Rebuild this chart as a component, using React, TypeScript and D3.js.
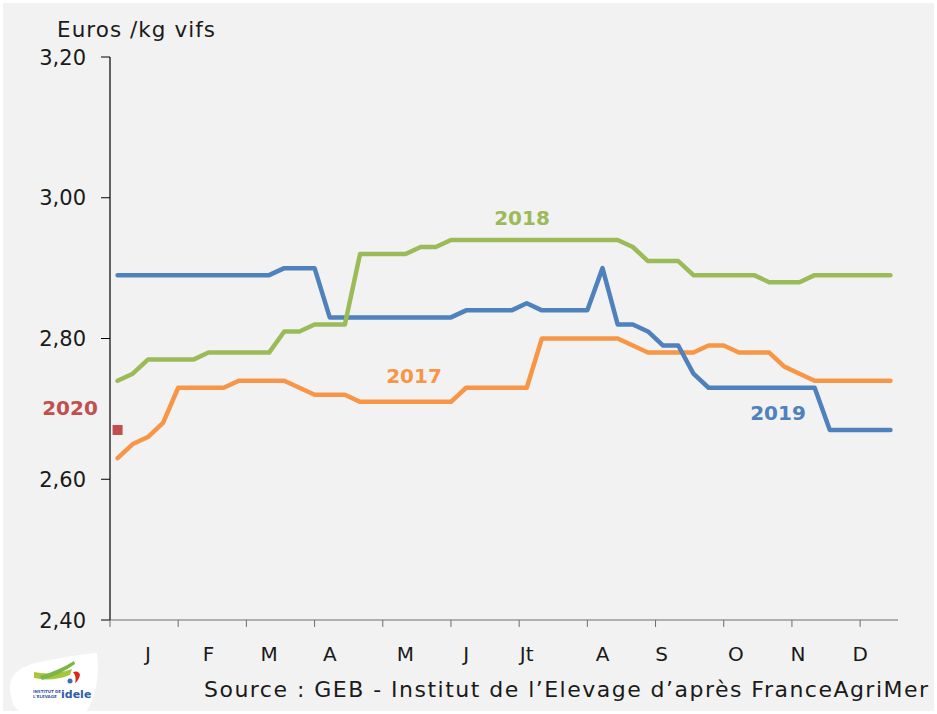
import React from "react";
import * as d3 from "d3";

const weeks: number[] = Array.from({ length: 52 }, (_, i) => i + 1);

const s2017: number[] = [
  2.63, 2.65, 2.66, 2.68, 2.73, 2.73, 2.73, 2.73, 2.74, 2.74, 2.74, 2.74, 2.73,
  2.72, 2.72, 2.72, 2.71, 2.71, 2.71, 2.71, 2.71, 2.71, 2.71, 2.73, 2.73, 2.73,
  2.73, 2.73, 2.8, 2.8, 2.8, 2.8, 2.8, 2.8, 2.79, 2.78, 2.78, 2.78, 2.78, 2.79,
  2.79, 2.78, 2.78, 2.78, 2.76, 2.75, 2.74, 2.74, 2.74, 2.74, 2.74, 2.74,
];

const s2018: number[] = [
  2.74, 2.75, 2.77, 2.77, 2.77, 2.77, 2.78, 2.78, 2.78, 2.78, 2.78, 2.81, 2.81,
  2.82, 2.82, 2.82, 2.92, 2.92, 2.92, 2.92, 2.93, 2.93, 2.94, 2.94, 2.94, 2.94,
  2.94, 2.94, 2.94, 2.94, 2.94, 2.94, 2.94, 2.94, 2.93, 2.91, 2.91, 2.91, 2.89,
  2.89, 2.89, 2.89, 2.89, 2.88, 2.88, 2.88, 2.89, 2.89, 2.89, 2.89, 2.89, 2.89,
];

const s2019: number[] = [
  2.89, 2.89, 2.89, 2.89, 2.89, 2.89, 2.89, 2.89, 2.89, 2.89, 2.89, 2.9, 2.9,
  2.9, 2.83, 2.83, 2.83, 2.83, 2.83, 2.83, 2.83, 2.83, 2.83, 2.84, 2.84, 2.84,
  2.84, 2.85, 2.84, 2.84, 2.84, 2.84, 2.9, 2.82, 2.82, 2.81, 2.79, 2.79, 2.75,
  2.73, 2.73, 2.73, 2.73, 2.73, 2.73, 2.73, 2.73, 2.67, 2.67, 2.67, 2.67, 2.67,
];

const s2020: number[] = [2.67];

const yTicks: number[] = [2.4, 2.6, 2.8, 3.0, 3.2];
const xTickWeeks: number[] = [0.5, 5, 9.5, 14, 18.5, 23, 27.5, 32, 36.5, 41, 45.5, 50];
const monthLabels: string[] = ["J", "F", "M", "A", "M", "J", "Jt", "A", "S", "O", "N", "D"];
const monthWeeks: number[] = [3, 7, 11, 15, 20, 24, 28, 33, 36.9, 41.8, 45.9, 50];

const FONT = "'DejaVu Sans', 'Open Sans', sans-serif";

export default function App() {
  const W = 937;
  const H = 714;
  const x = d3.scaleLinear().domain([0.5, 52.5]).range([110, 898]);
  const y = d3.scaleLinear().domain([2.4, 3.2]).range([620, 57]);
  const line = d3
    .line<number>()
    .x((_, i) => x(weeks[i]))
    .y((d) => y(d));

  const series = [
    { data: s2017, color: "#f79646" },
    { data: s2019, color: "#4f81bd" },
    { data: s2018, color: "#9bbb59" },
  ];

  return (
    <svg
      width={W}
      height={H}
      style={{ position: "absolute", left: 0, top: 0, display: "block" }}
    >
      <rect x={0} y={0} width={W} height={H} fill="#ffffff" />
      <rect x={3} y={3} width={W - 6} height={H - 6} fill="#f2f2f2" />

      {/* title */}
      <text x={57} y={37} fontFamily={FONT} fontSize={21.5} fill="#1a1a1a" textLength={158} lengthAdjust="spacing">
        Euros /kg vifs
      </text>

      {/* y axis */}
      <line x1={x(0.5)} x2={x(0.5)} y1={y(3.2)} y2={y(2.4)} stroke="#000" strokeWidth={1.2} />
      {yTicks.map((t) => (
        <g key={t}>
          <line x1={x(0.5) - 9} x2={x(0.5)} y1={y(t)} y2={y(t)} stroke="#000" strokeWidth={1} />
          <text
            x={86}
            y={y(t)}
            dy="0.36em"
            textAnchor="end"
            fontFamily={FONT}
            fontSize={21}
            fill="#1a1a1a"
          >
            {t.toFixed(2).replace(".", ",")}
          </text>
        </g>
      ))}

      {/* x axis */}
      <line x1={x(0.5)} x2={x(52.5)} y1={y(2.4)} y2={y(2.4)} stroke="#6d6d6d" strokeWidth={1.2} />
      {xTickWeeks.map((w) => (
        <line key={w} x1={x(w)} x2={x(w)} y1={y(2.4)} y2={y(2.4) + 7} stroke="#6d6d6d" strokeWidth={1} />
      ))}
      {monthLabels.map((m, i) => (
        <text
          key={i}
          x={x(monthWeeks[i])}
          y={661}
          textAnchor="middle"
          fontFamily={FONT}
          fontSize={20}
          fill="#1a1a1a"
        >
          {m}
        </text>
      ))}

      {/* series */}
      {series.map((s, i) => (
        <path
          key={i}
          d={line(s.data) || ""}
          fill="none"
          stroke={s.color}
          strokeWidth={4.5}
          strokeLinejoin="round"
          strokeLinecap="round"
        />
      ))}
      {s2020.map((v, i) => (
        <rect key={i} x={x(weeks[i]) - 5} y={y(v) - 5} width={10} height={10} fill="#c0504d" />
      ))}

      {/* series labels */}
      <text x={522} y={225} textAnchor="middle" fontFamily={FONT} fontWeight="bold" fontSize={20} fill="#9bbb59">2018</text>
      <text x={414} y={383} textAnchor="middle" fontFamily={FONT} fontWeight="bold" fontSize={20} fill="#f79646">2017</text>
      <text x={778} y={420} textAnchor="middle" fontFamily={FONT} fontWeight="bold" fontSize={20} fill="#4f81bd">2019</text>
      <text x={70} y={415} textAnchor="middle" fontFamily={FONT} fontWeight="bold" fontSize={20} fill="#c0504d">2020</text>

      {/* source */}
      <text x={204} y={697} fontFamily={FONT} fontSize={22} fill="#1a1a1a" textLength={724} lengthAdjust="spacing">
        Source : GEB - Institut de l’Elevage d’après FranceAgriMer
      </text>

      {/* logo */}
      <g>
        <path d="M10,690 Q8,668 40,662 Q80,654 97,653 Q101,690 86,712 L20,712 Q11,706 10,690 Z" fill="#ffffff" />
        <path d="M34,672 Q52,676 72,669 L70,675 Q52,682 34,678 Z" fill="#a8c63a" />
        <path d="M40,676 Q60,670 74,661 L75,664 Q60,675 42,680 Z" fill="#7ab648" />
        <path d="M73,672 Q79,670 80,675 Q79,680 75,683 Q77,677 73,672 Z" fill="#e2231a" />
        <circle cx={70} cy={681} r={2.5} fill="#3a6fb0" />
        <text x={33} y={693} fontFamily={FONT} fontSize={4} fontWeight="bold" fill="#3a5a9a">INSTITUT DE</text>
        <text x={33} y={698} fontFamily={FONT} fontSize={4} fontWeight="bold" fill="#3a5a9a">L'ELEVAGE</text>
        <text x={61} y={698} fontFamily={FONT} fontSize={11} fontWeight="bold" fill="#2f5da8">idele</text>
      </g>
    </svg>
  );
}
